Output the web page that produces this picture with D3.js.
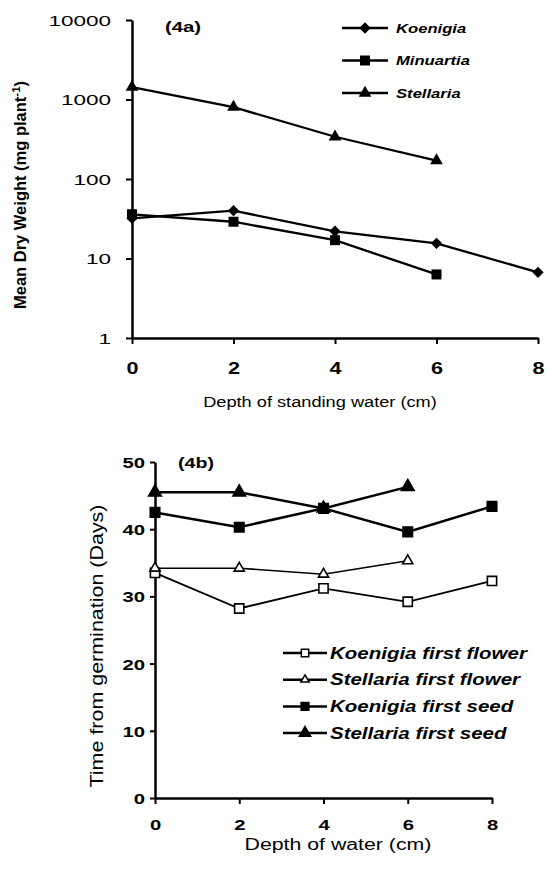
<!DOCTYPE html>
<html>
<head>
<meta charset="utf-8">
<script src="https://cdn.jsdelivr.net/npm/d3@7"></script>
<style>
  body { margin: 0; background: #fff; }
  svg text { font-family: 'Liberation Sans', Arial, sans-serif; fill: #000; }
</style>
</head>
<body>
<div id="figure"></div>
<script>
'use strict';

// (4a) dry weight
var depthsA = [0, 2, 4, 6, 8];
var koenigiaWeight = [32, 40, 22, 15.5, 6.7];
var minuartiaWeight = [36, 29, 17, 6.3];
var stellariaWeight = [1430, 800, 340, 170];
var weightTicks = [1, 10, 100, 1000, 10000];

// (4b) phenology
var depthsB = [0, 2, 4, 6, 8];
var koenigiaFlower = [33.5, 28.2, 31.2, 29.2, 32.3];
var stellariaFlower = [34.2, 34.2, 33.3, 35.3];
var koenigiaSeed = [42.5, 40.3, 43.1, 39.6, 43.4];
var stellariaSeed = [45.5, 45.5, 43.1, 46.3];
var dayTicks = [0, 10, 20, 30, 40, 50];
var depthTicks = [0, 2, 4, 6, 8];

var svg = d3.select('#figure')
  .append('svg')
    .attr('width', 548)
    .attr('height', 869);

// the scan is stretched sideways, so the text is widened to match
var stretch = function (sel, k) {
  sel.each(function () {
    var w = this.getComputedTextLength();
    this.setAttribute('textLength', w * k);
    this.setAttribute('lengthAdjust', 'spacingAndGlyphs');
  });
};

var marker = function (type, size) {
  return d3.symbol().type(type).size(size)();
};

var styleAxis = function (g) {
  g.select('.domain').attr('stroke', '#000').attr('stroke-width', 2.5);
  g.selectAll('.tick line').attr('stroke', '#000').attr('stroke-width', 2);
};

/* ---------- (4a) ---------- */
var xA = d3.scaleLinear().domain([0, 8]).range([132, 538]);
var yA = d3.scaleLog().domain([1, 10000]).range([338, 20]);

var gA = svg.append('g');

var axA = gA.append('g')
    .attr('transform', 'translate(0,' + yA(1) + ')')
    .call(d3.axisBottom(xA).tickValues(depthTicks).tickSize(6).tickSizeOuter(0));
styleAxis(axA);
axA.selectAll('.tick text')
    .attr('y', 36).attr('dy', null)
    .attr('font-size', 16).attr('font-weight', 'bold')
    .call(stretch, 1.35);

var ayA = gA.append('g')
    .attr('transform', 'translate(' + xA(0) + ',0)')
    .call(d3.axisLeft(yA).tickValues(weightTicks).tickFormat(d3.format('d')).tickSize(6).tickSizeOuter(0));
styleAxis(ayA);
ayA.selectAll('.tick text')
    .attr('x', -21).attr('dy', '0.36em')
    .attr('font-size', 15)
    .call(stretch, 1.5);

gA.append('text')
    .attr('x', 320).attr('y', 407)
    .attr('text-anchor', 'middle')
    .attr('font-size', 14)
    .text('Depth of standing water (cm)')
    .call(stretch, 1.3);

var yTitleA = gA.append('text')
    .attr('transform', 'translate(26,195) rotate(-90) scale(1,1.3)')
    .attr('text-anchor', 'middle')
    .attr('font-size', 13)
    .attr('font-weight', 'bold')
    .attr('textLength', 228)
    .attr('lengthAdjust', 'spacingAndGlyphs');
yTitleA.append('tspan').text('Mean Dry Weight (mg plant');
yTitleA.append('tspan').attr('dy', -5).attr('font-size', 9).text('-1');
yTitleA.append('tspan').attr('dy', 5).text(')');

gA.append('text')
    .attr('x', 165).attr('y', 32)
    .attr('font-size', 14).attr('font-weight', 'bold')
    .text('(4a)')
    .call(stretch, 1.45);

var seriesA = [
  {name: 'Koenigia', values: koenigiaWeight, shape: d3.symbolSquare, size: 64, rot: 45},
  {name: 'Minuartia', values: minuartiaWeight, shape: d3.symbolSquare, size: 100, rot: 0},
  {name: 'Stellaria', values: stellariaWeight, shape: d3.symbolTriangle, size: 70, rot: 0}
];

var lineA = d3.line()
    .x(function (d, i) { return xA(depthsA[i]); })
    .y(function (d) { return yA(d); });

seriesA.forEach(function (s, k) {
  gA.append('path')
      .datum(s.values)
      .attr('fill', 'none')
      .attr('stroke', '#000')
      .attr('stroke-width', 2.3)
      .attr('d', lineA);

  gA.selectAll('.pt' + k)
      .data(s.values)
    .enter().append('path')
      .attr('transform', function (d, i) {
        return 'translate(' + xA(depthsA[i]) + ',' + yA(d) + ') rotate(' + s.rot + ')';
      })
      .attr('d', marker(s.shape, s.size))
      .attr('fill', '#000');

  // legend row
  var ly = 28 + k * 32.5;
  gA.append('line')
      .attr('x1', 342).attr('x2', 388)
      .attr('y1', ly).attr('y2', ly)
      .attr('stroke', '#000').attr('stroke-width', 2.3);
  gA.append('path')
      .attr('transform', 'translate(365,' + ly + ') rotate(' + s.rot + ')')
      .attr('d', marker(s.shape, s.size))
      .attr('fill', '#000');
  gA.append('text')
      .attr('x', 396).attr('y', ly + 4.5)
      .attr('font-size', 12.5)
      .attr('font-weight', 'bold')
      .attr('font-style', 'italic')
      .text(s.name)
      .call(stretch, 1.33);
});

/* ---------- (4b) ---------- */
var xB = d3.scaleLinear().domain([0, 8]).range([155, 492]);
var yB = d3.scaleLinear().domain([0, 50]).range([798, 462]);

var gB = svg.append('g');

var axB = gB.append('g')
    .attr('transform', 'translate(0,' + yB(0) + ')')
    .call(d3.axisBottom(xB).tickValues(depthTicks).tickSize(6).tickSizeOuter(0));
styleAxis(axB);
axB.selectAll('.tick text')
    .attr('y', 32).attr('dy', null)
    .attr('font-size', 15).attr('font-weight', 'bold')
    .call(stretch, 1.35);

var ayB = gB.append('g')
    .attr('transform', 'translate(' + xB(0) + ',0)')
    .call(d3.axisLeft(yB).tickValues(dayTicks).tickSize(5).tickSizeOuter(0));
styleAxis(ayB);
ayB.selectAll('.tick text')
    .attr('x', -10).attr('dy', '0.36em')
    .attr('font-size', 15).attr('font-weight', 'bold')
    .call(stretch, 1.35);

gB.append('text')
    .attr('x', 338).attr('y', 850)
    .attr('text-anchor', 'middle')
    .attr('font-size', 16)
    .text('Depth of water (cm)')
    .call(stretch, 1.33);

gB.append('text')
    .attr('transform', 'translate(103,646) rotate(-90)')
    .attr('text-anchor', 'middle')
    .attr('font-size', 19)
    .attr('textLength', 283)
    .attr('lengthAdjust', 'spacingAndGlyphs')
    .text('Time from germination (Days)');

gB.append('text')
    .attr('x', 178).attr('y', 468)
    .attr('font-size', 14).attr('font-weight', 'bold')
    .text('(4b)')
    .call(stretch, 1.4);

var seriesB = [
  {name: 'Koenigia first flower', values: koenigiaFlower, shape: d3.symbolSquare, size: 85, fill: '#fff', width: 1.8, legSize: 55},
  {name: 'Stellaria first flower', values: stellariaFlower, shape: d3.symbolTriangle, size: 45, fill: '#fff', width: 1.6, legSize: 30},
  {name: 'Koenigia first seed', values: koenigiaSeed, shape: d3.symbolSquare, size: 90, fill: '#000', width: 2.5, legSize: 60},
  {name: 'Stellaria first seed', values: stellariaSeed, shape: d3.symbolTriangle, size: 70, fill: '#000', width: 2.5, legSize: 55}
];

var lineB = d3.line()
    .x(function (d, i) { return xB(depthsB[i]); })
    .y(function (d) { return yB(d); });

seriesB.forEach(function (s) {
  gB.append('path')
      .datum(s.values)
      .attr('fill', 'none')
      .attr('stroke', '#000')
      .attr('stroke-width', s.width)
      .attr('d', lineB);
});

seriesB.forEach(function (s, k) {
  gB.selectAll('.pt' + k)
      .data(s.values)
    .enter().append('path')
      .attr('transform', function (d, i) {
        return 'translate(' + xB(depthsB[i]) + ',' + yB(d) + ')';
      })
      .attr('d', marker(s.shape, s.size))
      .attr('fill', s.fill)
      .attr('stroke', '#000')
      .attr('stroke-width', 1.6);

  // legend row
  var ly = 653 + k * 26.7;
  gB.append('line')
      .attr('x1', 283).attr('x2', 327)
      .attr('y1', ly).attr('y2', ly)
      .attr('stroke', '#000').attr('stroke-width', 2.5);
  gB.append('path')
      .attr('transform', 'translate(305,' + ly + ')')
      .attr('d', marker(s.shape, s.legSize))
      .attr('fill', s.fill)
      .attr('stroke', '#000')
      .attr('stroke-width', 1.5);
  gB.append('text')
      .attr('x', 330).attr('y', ly + 5.5)
      .attr('font-size', 16)
      .attr('font-weight', 'bold')
      .attr('font-style', 'italic')
      .text(s.name)
      .call(stretch, 1.28);
});
</script>
</body>
</html>
